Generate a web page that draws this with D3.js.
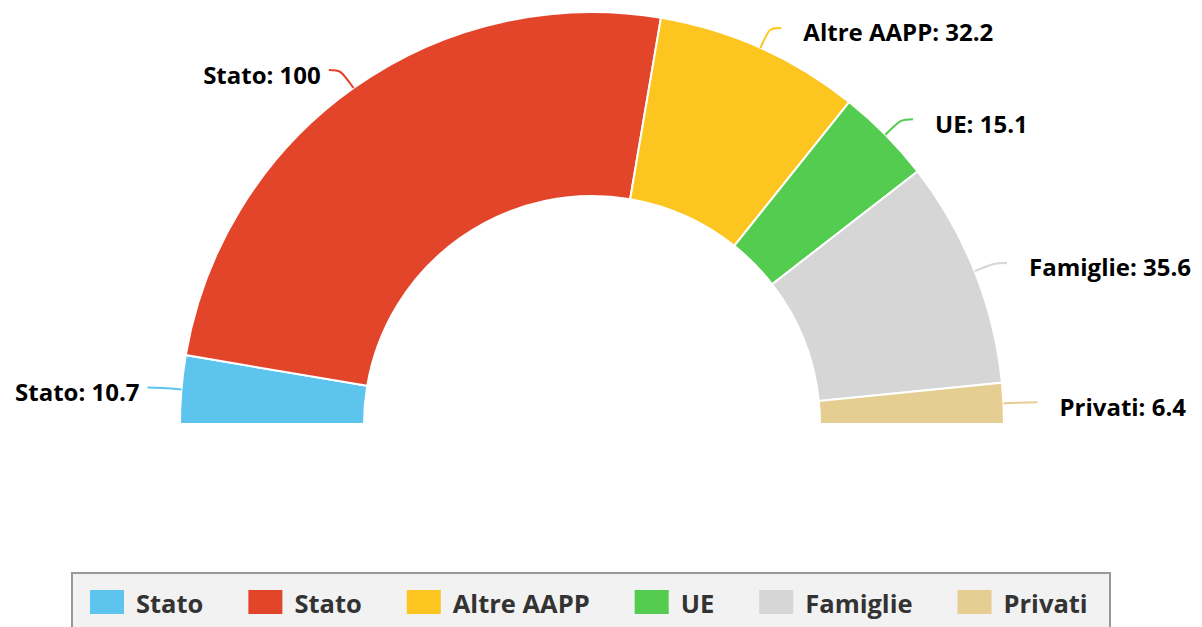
<!DOCTYPE html>
<html>
<head>
<meta charset="utf-8">
<script src="https://cdn.jsdelivr.net/npm/d3@7"></script>
<style>
  body { margin: 0; background: #fff; }
  svg { display: block; font-family: "Open Sans", sans-serif; }
</style>
</head>
<body>
<svg width="1202" height="627"></svg>
<script>
const labels = ['Stato', 'Stato', 'Altre AAPP', 'UE', 'Famiglie', 'Privati'];
const values = [10.7, 100, 32.2, 15.1, 35.6, 6.4];
const colors = ['#5cc4ed', '#e2452a', '#fcc520', '#53cc50', '#d6d6d6', '#e6cd92'];

function whenLoaded(){
    const svg = d3.select('svg');
    const cx = 592, cy = 424;
    const outerR = 412, innerR = 228;

    const data = labels.map((l, i) => ({label: l, value: values[i], color: colors[i]}));

    const pie = d3.pie()
        .sort(null)
        .value(d => d.value)
        .startAngle(-Math.PI / 2)
        .endAngle(Math.PI / 2);

    const arc = d3.arc().innerRadius(innerR).outerRadius(outerR);

    const g = svg.append('g').attr('transform', `translate(${cx},${cy})`);
    const arcs = pie(data);

    g.selectAll('path.slice').data(arcs)
        .enter()
        .append('path')
        .attr('class', 'slice')
        .attr('d', arc)
        .attr('fill', d => d.data.color)
        .attr('stroke', '#fff')
        .attr('stroke-width', 2);

    // connectors + labels
    const pt = (a, r) => [r * Math.sin(a), -r * Math.cos(a)];
    arcs.forEach(d => {
        const a = (d.startAngle + d.endAngle) / 2;
        const right = a > 0;
        const p0 = pt(a, outerR);
        const p1 = pt(a, outerR + 22);
        const p2 = [p1[0] + (right ? 12 : -12), p1[1]];
        g.append('path')
            .attr('d', `M${p0[0]},${p0[1]} C${p1[0]},${p1[1]} ${p1[0]},${p1[1]} ${p2[0]},${p2[1]}`)
            .attr('fill', 'none')
            .attr('stroke', d.data.color)
            .attr('stroke-width', 2);
        g.append('text')
            .attr('x', right ? p2[0] + 22 : p2[0] - 8)
            .attr('y', p2[1] + 4)
            .attr('dominant-baseline', 'central')
            .attr('text-anchor', right ? 'start' : 'end')
            .attr('font-size', 24)
            .attr('font-weight', 700)
            .attr('fill', '#000')
            .text(`${d.data.label}: ${d.data.value}`);
    });

    // legend
    const legend = svg.append('g');
    legend.append('rect')
        .attr('x', 72).attr('y', 573)
        .attr('width', 1038).attr('height', 80)
        .attr('fill', '#f2f2f2')
        .attr('stroke', '#999')
        .attr('stroke-width', 2);

    let x = 90;
    data.forEach(d => {
        const item = legend.append('g');
        item.append('rect')
            .attr('x', x).attr('y', 590)
            .attr('width', 34).attr('height', 24)
            .attr('fill', d.color);
        const t = item.append('text')
            .attr('x', x + 46)
            .attr('y', 603)
            .attr('dominant-baseline', 'central')
            .attr('font-size', 25.5)
            .attr('font-weight', 700)
            .attr('fill', '#333')
            .text(d.label);
        x += 46 + t.node().getComputedTextLength() + 45;
    });
}

window.onload = whenLoaded;
</script>
</body>
</html>
